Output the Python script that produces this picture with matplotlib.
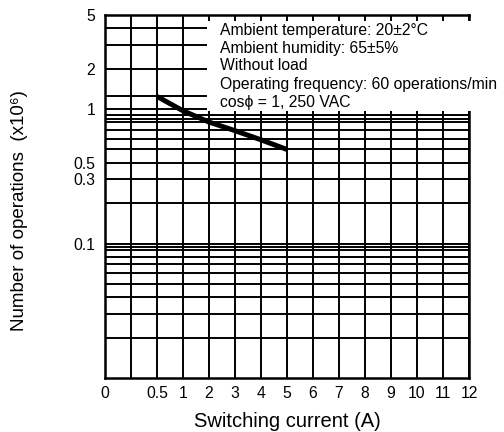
import numpy as np
import matplotlib
matplotlib.use("Agg")
import matplotlib.pyplot as plt
from matplotlib.patches import Rectangle

plt.rcParams['font.family'] = ['Liberation Sans', 'DejaVu Sans']

# Axis tick labels (x is an evenly spaced, non-linear scale)
x_tick_values = [0, 0.5, 1, 2, 3, 4, 5, 6, 7, 8, 9, 10, 11, 12]
x_tick_positions = [0, 2, 3, 4, 5, 6, 7, 8, 9, 10, 11, 12, 13, 14]
x_tick_labels = ["0", "0.5", "1", "2", "3", "4", "5", "6", "7", "8", "9", "10", "11", "12"]

y_tick_values = [5, 2, 1, 0.4, 0.3, 0.1]
y_tick_labels = ["5", "2", "1", "0.5", "0.3", "0.1"]

# Grid lines of the printed chart
y_grid = [5, 4, 3, 2, 1.25, 1, 0.9, 0.85, 0.8, 0.7, 0.6, 0.5, 0.4, 0.3, 0.2,
          0.1, 0.095, 0.09, 0.08, 0.07, 0.06, 0.05, 0.04, 0.03, 0.02]

# Curve: switching current (A) vs number of operations (x10^6)
current = [0.5, 1, 2, 3, 4, 5]
operations = [1.24, 0.97, 0.80, 0.69, 0.59, 0.50]

notes = ["Ambient temperature: 20\u00b12\u00b0C",
         "Ambient humidity: 65\u00b15%",
         "Without load",
         "Operating frequency: 60 operations/min",
         "cos\u03d5 = 1, 250 VAC"]

W, H = 504, 432
fig = plt.figure(figsize=(W / 100, H / 100), dpi=100)
L, R, T, B = 105, 469, 15, 378
ax = fig.add_axes([L / W, 1 - B / H, (R - L) / W, (B - T) / H])

ax.set_yscale('log')
ax.set_xlim(0, 14)
ax.set_ylim(0.01, 5)

n_pos = x_tick_positions[-1]
ax.vlines(np.arange(0, n_pos + 1), 0.01, 5, colors='black', linewidth=1.4, zorder=1)
ax.hlines(y_grid, 0, n_pos, colors='black', linewidth=1.4, zorder=1)

xpos = np.interp(current, x_tick_values, x_tick_positions)
ax.plot(xpos, operations, color='black', linewidth=3.6, solid_capstyle='butt', zorder=3)

ax.set_xticks(x_tick_positions)
ax.set_xticklabels(x_tick_labels, fontsize=11.3)
ax.set_yticks(y_tick_values)
ax.set_yticklabels(y_tick_labels, fontsize=11.3)
ax.yaxis.set_minor_locator(matplotlib.ticker.NullLocator())
ax.tick_params(axis='both', length=0)
ax.tick_params(axis='x', pad=6)
ax.tick_params(axis='y', pad=7)
for s in ax.spines.values():
    s.set_linewidth(1.8)

ax.set_xlabel("Switching current (A)", fontsize=14.5, labelpad=8)
ax.set_ylabel("Number of operations  (x10\u2076)", fontsize=13.5)
ax.yaxis.set_label_coords(-0.212, 0.46)

# White box with notes
fig.add_artist(Rectangle((207 / W, 1 - 111 / H), (473 - 207) / W, (111 - 21) / H,
                         transform=fig.transFigure, facecolor='white',
                         edgecolor='none', zorder=2))
for i, t in enumerate(notes):
    fig.text(220 / W, 1 - (30 + 18 * i) / H, t, fontsize=11.3, va='center',
             ha='left', zorder=3)

fig.savefig("out.png", dpi=100)
